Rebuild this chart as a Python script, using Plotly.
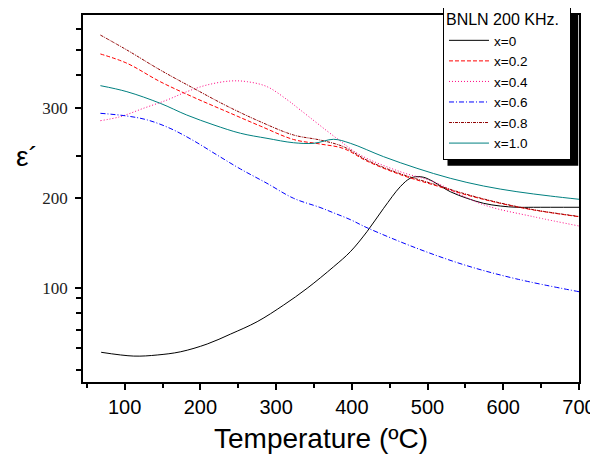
import plotly.graph_objects as go

# ---- data ----
series_names = ["x=0", "x=0.2", "x=0.4", "x=0.6", "x=0.8", "x=1.0"]

t_x00 = [69, 112, 143, 174, 209, 240, 275, 310, 341, 376, 398, 420, 442, 464, 477, 486, 495, 508, 530, 552, 574, 596, 618, 640, 700]
e_x00 = [28.6, 24.4, 25.6, 29.2, 37.8, 48.9, 62.6, 81.1, 99.7, 123.7, 140.3, 162.6, 188.6, 212.6, 221.9, 223.7, 223, 218, 207, 199.7, 194.1, 191.1, 189.7, 189.7, 189.7]

t_x02 = [68, 103, 147, 191, 235, 279, 323, 358, 389, 420, 464, 508, 552, 596, 640, 700]
e_x02 = [360, 349.7, 329.2, 311.9, 295.9, 280, 265, 260, 255, 241, 226, 214.5, 203.3, 194.1, 186.7, 179.2]

t_x04 = [68, 94, 125, 156, 182, 209, 240, 262, 288, 315, 332, 380, 411, 464, 508, 544, 579, 640, 700]
e_x04 = [285.9, 290.3, 299.7, 308.9, 318.1, 325.6, 330, 329.2, 323.7, 308.9, 297.8, 266.3, 247.8, 229.2, 218.1, 203.3, 191.1, 179.2, 168.9]

t_x06 = [68, 103, 130, 160, 191, 222, 253, 288, 323, 358, 376, 398, 420, 486, 552, 618, 700]
e_x06 = [294.1, 291.1, 286.7, 277.4, 263.7, 247.8, 232.2, 216.3, 199.7, 189.5, 183.5, 176, 167, 144.1, 124.8, 110, 95.9]

t_x08 = [68, 103, 147, 191, 235, 279, 323, 358, 389, 420, 464, 508, 552, 596, 640, 700]
e_x08 = [381, 364.4, 342.2, 321.9, 302.2, 284.8, 270, 264.4, 257, 242, 227, 215.5, 204, 194.5, 187, 179.5]

t_x10 = [68, 103, 147, 182, 218, 253, 288, 323, 350, 376, 398, 442, 486, 530, 574, 618, 662, 700]
e_x10 = [324.8, 318.1, 305.2, 292.2, 281.1, 271.9, 266.3, 261.4, 260.8, 265.2, 260.8, 245.9, 233, 221.9, 213.3, 207, 202.2, 198.6]

x_tick_vals = [100, 200, 300, 400, 500, 600, 700]
y_tick_vals = [100, 200, 300]
y_tick_text = ["100", "200", "300"]
y_minor_vals = [8.9, 33.3, 53.3, 72.2, 88.9, 246.7, 336.7, 364.4, 387.8]

legend_title = "BNLN 200 KHz."
x_title = "Temperature (ºC)"
y_title = "ε´"

# ---- styles ----
colors = ["#000000", "#FF0000", "#FF0080", "#0000FF", "#900000", "#008080"]
dashes = ["solid", "4px,2px", "1px,2px", "5px,2px,1px,2px", "3px,1px,1px,1px", "solid"]

xs = [t_x00, t_x02, t_x04, t_x06, t_x08, t_x10]
ys = [e_x00, e_x02, e_x04, e_x06, e_x08, e_x10]

fig = go.Figure()
for name, x, y, c, d in zip(series_names, xs, ys, colors, dashes):
    fig.add_trace(go.Scatter(
        x=x, y=y, name=name, mode="lines",
        line=dict(color=c, width=1, dash=d, shape="spline", smoothing=1.0),
    ))

SANS = "Arial, Liberation Sans, sans-serif"
SERIF = "Times New Roman, Liberation Serif, serif"

# the page body adds an 8px margin, so the figure is drawn 8px smaller
fig.update_layout(
    width=590, height=449,
    margin=dict(l=75, r=19, t=7, b=75, autoexpand=False),
    paper_bgcolor="white", plot_bgcolor="white",
    showlegend=True,
    legend=dict(
        title=dict(text=legend_title + "\u00a0\u00a0", font=dict(family=SANS, size=16, color="black")),
        font=dict(family=SANS, size=13.5, color="black"),
        x=0.7258, y=1.032, xanchor="left", yanchor="top",
        bgcolor="white", bordercolor="black", borderwidth=1,
        tracegroupgap=0, itemwidth=40,
    ),
    xaxis=dict(
        range=[45, 700], showgrid=False, zeroline=False,
        showline=True, linecolor="black", linewidth=1.5, mirror=True,
        ticks="outside", ticklen=6, tickwidth=1.5, tickcolor="black",
        tickmode="array", tickvals=x_tick_vals,
        tickfont=dict(family=SANS, size=20, color="black"),
        minor=dict(dtick=50, tick0=0, ticks="outside", ticklen=4, tickwidth=1.5, tickcolor="black"),
    ),
    yaxis=dict(
        range=[-4.4, 403.3], showgrid=False, zeroline=False,
        showline=True, linecolor="black", linewidth=1.5, mirror=True,
        ticks="outside", ticklen=6, tickwidth=1.5, tickcolor="black",
        tickmode="array", tickvals=y_tick_vals, ticktext=y_tick_text,
        tickfont=dict(family=SERIF, size=17, color="#222222"),
        ticklabelstandoff=4,
        minor=dict(tickmode="array", tickvals=y_minor_vals, ticks="outside",
                   ticklen=5, tickwidth=1.5, tickcolor="black"),
    ),
    annotations=[
        dict(text=x_title, xref="paper", yref="paper", x=0.480, y=-0.1535,
             xanchor="center", yanchor="middle", showarrow=False,
             font=dict(family=SANS, size=28, color="black")),
        dict(text=y_title, xref="paper", yref="paper", x=-0.1123, y=0.615,
             xanchor="center", yanchor="middle", showarrow=False,
             font=dict(family=SANS, size=28, color="black")),
    ],
    shapes=[
        dict(type="rect", xref="paper", yref="paper", layer="above",
             x0=0.7349, x1=0.9985, y0=0.589, y1=1.0054,
             fillcolor="black", line=dict(width=0)),
    ],
)

fig.write_html("out.html")
